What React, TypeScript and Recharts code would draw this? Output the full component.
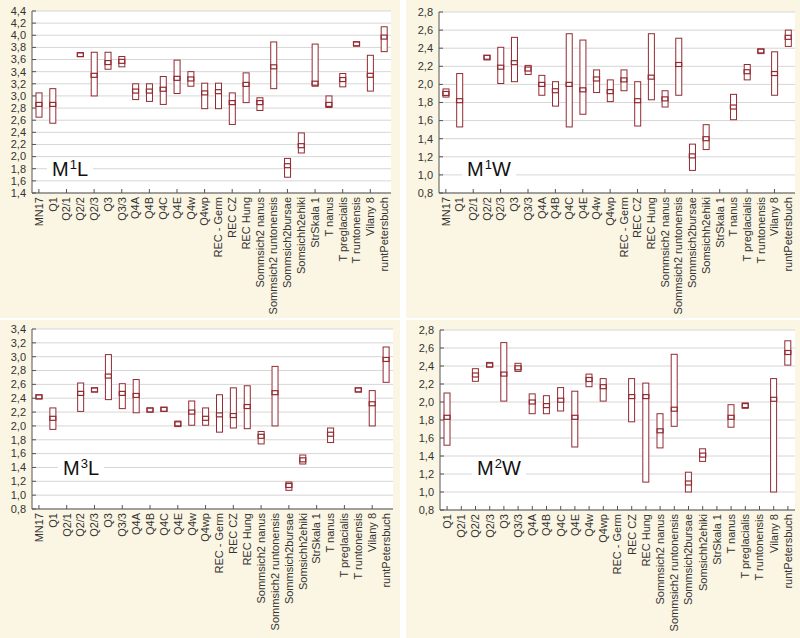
import React from "react";
import { ComposedChart, Bar, Scatter, XAxis, YAxis, CartesianGrid } from "recharts";

// sample groups (x categories)
const groups = [
  "MN17", "Q1", "Q2/1", "Q2/2", "Q2/3", "Q3", "Q3/3", "Q4A", "Q4B", "Q4C", "Q4E", "Q4w", "Q4wp",
  "REC - Germ", "REC CZ", "REC Hung", "Sommsich2 nanus", "Sommsich2 runtonensis", "Sommsich2bursae",
  "Somsichh2ehiki", "StrSkala 1", "T nanus", "T preglacialis", "T runtonensis", "Vilany 8", "runtPetersbuch",
];
const groupsM2W = groups.slice(1);

// M1L
const m1lMin = [2.65, 2.55, null, 3.65, 3.0, 3.44, 3.48, 2.94, 2.91, 2.86, 3.04, 3.16, 2.79, 2.79, 2.53, 2.89, 2.76, 3.12, 1.66, 2.06, 3.16, 2.81, 3.15, 3.82, 3.08, 3.73];
const m1lMax = [3.05, 3.12, null, 3.71, 3.72, 3.72, 3.65, 3.2, 3.2, 3.32, 3.59, 3.4, 3.21, 3.21, 3.05, 3.38, 2.97, 3.89, 1.97, 2.39, 3.855, 3.0, 3.37, 3.89, 3.67, 4.14];
const m1lMed = [2.86, 2.86, null, 3.68, 3.34, 3.55, 3.57, 3.08, 3.08, 3.11, 3.29, 3.28, 3.05, 3.07, 2.89, 3.19, 2.89, 3.48, 1.85, 2.18, 3.21, 2.86, 3.27, 3.86, 3.34, 3.97];

// M1W
const m1wMin = [1.86, 1.53, null, 2.27, 2.01, 2.03, 2.11, 1.88, 1.76, 1.53, 1.67, 1.91, 1.81, 1.93, 1.54, 1.83, 1.75, 1.88, 1.05, 1.28, null, 1.61, 2.05, 2.34, 1.88, 2.42];
const m1wMax = [1.95, 2.12, null, 2.32, 2.41, 2.52, 2.21, 2.1, 2.03, 2.56, 2.49, 2.16, 2.05, 2.16, 2.03, 2.56, 1.93, 2.51, 1.34, 1.555, null, 1.89, 2.22, 2.39, 2.36, 2.6];
const m1wMed = [1.9, 1.82, null, 2.3, 2.19, 2.24, 2.17, 2.0, 1.93, 2.0, 1.94, 2.06, 1.92, 2.05, 1.82, 2.08, 1.84, 2.22, 1.21, 1.4, null, 1.75, 2.14, 2.37, 2.12, 2.52];

// M3L
const m3lMin = [2.39, 1.95, null, 2.21, 2.49, 2.38, 2.25, 2.19, 2.2, 2.21, 1.99, 2.01, 2.01, 1.91, 1.97, 1.96, 1.74, 2.0, 1.07, 1.45, null, 1.76, null, 2.49, 2.0, 2.63];
const m3lMax = [2.45, 2.26, null, 2.62, 2.55, 3.03, 2.61, 2.67, 2.26, 2.27, 2.07, 2.36, 2.26, 2.45, 2.55, 2.58, 1.92, 2.86, 1.19, 1.58, null, 1.97, null, 2.55, 2.51, 3.14];
const m3lMed = [2.42, 2.11, null, 2.47, 2.52, 2.72, 2.47, 2.44, 2.23, 2.24, 2.03, 2.2, 2.11, 2.16, 2.15, 2.28, 1.85, 2.48, 1.14, 1.51, null, 1.88, null, 2.52, 2.32, 2.96];

// M2W (no MN17)
const m2wMin = [1.52, null, 2.23, 2.39, 2.01, 2.34, 1.87, 1.87, 1.9, 1.5, 2.17, 2.01, null, 1.78, 1.11, 1.49, 1.73, 1.0, 1.34, null, 1.72, 1.93, null, 1.0, 2.41];
const m2wMax = [2.1, null, 2.37, 2.44, 2.66, 2.43, 2.09, 2.07, 2.16, 2.12, 2.31, 2.26, null, 2.26, 2.21, 1.87, 2.53, 1.22, 1.48, null, 1.97, 1.99, null, 2.26, 2.68];
const m2wMed = [1.83, null, 2.3, 2.41, 2.31, 2.38, 2.0, 1.96, 2.02, 1.83, 2.25, 2.17, null, 2.06, 2.06, 1.68, 1.92, 1.1, 1.41, null, 1.83, 1.96, null, 2.03, 2.55];

const ticksM1L = [1.4, 1.6, 1.8, 2.0, 2.2, 2.4, 2.6, 2.8, 3.0, 3.2, 3.4, 3.6, 3.8, 4.0, 4.2, 4.4];
const ticksM3L = [0.8, 1.0, 1.2, 1.4, 1.6, 1.8, 2.0, 2.2, 2.4, 2.6, 2.8, 3.0, 3.2, 3.4];
const ticksW = [0.8, 1.0, 1.2, 1.4, 1.6, 1.8, 2.0, 2.2, 2.4, 2.6, 2.8];

const RED = "#922b32";
const AXIS = "#555";
const CREAM = "#fbf6e3";
const FONT = "Liberation Sans, Arial, sans-serif";
const Y_MARGIN = 6;
const X_MARGIN = 3;

const BoxShape = (props: any) => {
  const { x, y, width, height, payload } = props;
  if (!payload || !payload.range) return <g />;
  return <rect x={x} y={y} width={width} height={height} fill="#fff" stroke={RED} strokeWidth={1} />;
};

const MedShape = (props: any) => {
  const { cx, cy, payload } = props;
  if (!payload || payload.med == null || !isFinite(cy)) return <g />;
  return <rect x={cx - 3} y={cy - 2} width={6} height={4} fill="none" stroke={RED} strokeWidth={1.2} />;
};

const YTick = (props: any) => {
  const { x, y, payload } = props;
  const ax = x + Y_MARGIN;
  return (
    <g>
      <line x1={ax} x2={ax + 4} y1={y} y2={y} stroke={AXIS} />
      <text x={x} y={y} dy="0.35em" textAnchor="end" fontSize={11} fill="#333" fontFamily={FONT}>
        {Number(payload.value).toFixed(1).replace(".", ",")}
      </text>
    </g>
  );
};

const makeXTick = (every: number) => (props: any) => {
  const { x, y, payload, index } = props;
  const ay = y - X_MARGIN;
  return (
    <g>
      {index % every === 0 && <line x1={x} x2={x} y1={ay} y2={ay - 4} stroke={AXIS} />}
      <text
        x={x}
        y={y + 1}
        dy="0.35em"
        textAnchor="end"
        transform={`rotate(-90 ${x} ${y + 1})`}
        fontSize={11}
        fill="#333"
        fontFamily={FONT}
      >
        {payload.value}
      </text>
    </g>
  );
};

const makeTopTick = (every: number) => (props: any) => {
  const { x, y, index } = props;
  if (index % every !== 0) return <g />;
  return <line x1={x} x2={x} y1={y} y2={y + 4} stroke={AXIS} />;
};

interface PanelProps {
  names: string[];
  mins: (number | null)[];
  maxs: (number | null)[];
  meds: (number | null)[];
  ticks: number[];
  every: number;
  left: number;
  top: number;
  width: number;
  margin: { top: number; right: number };
  yWidth: number;
  xHeight: number;
  sup: string;
  suffix: string;
  labelPos: { left: number; top: number };
}

function Panel(p: PanelProps) {
  const data = p.names.map((name, i) => ({
    name,
    range: p.mins[i] != null && p.maxs[i] != null ? [p.mins[i], p.maxs[i]] : null,
    med: p.meds[i],
  }));
  const domain = [p.ticks[0], p.ticks[p.ticks.length - 1]];
  return (
    <div style={{ position: "absolute", left: p.left, top: p.top, width: p.width, height: 318, background: CREAM }}>
      <ComposedChart
        width={p.width}
        height={318}
        data={data}
        margin={{ top: p.margin.top, right: p.margin.right, left: 0, bottom: 0 }}
      >
        <CartesianGrid vertical={false} stroke="#d6d6d6" fill="#ffffff" fillOpacity={1} />
        <XAxis
          dataKey="name"
          interval={0}
          height={p.xHeight}
          tickSize={0}
          tickMargin={X_MARGIN}
          tickLine={false}
          axisLine={{ stroke: AXIS }}
          tick={makeXTick(p.every)}
        />
        <XAxis
          xAxisId="top"
          dataKey="name"
          orientation="top"
          interval={0}
          height={0}
          tickSize={0}
          tickMargin={0}
          tickLine={false}
          axisLine={{ stroke: AXIS }}
          tick={makeTopTick(p.every)}
        />
        <YAxis
          domain={domain}
          ticks={p.ticks}
          interval={0}
          width={p.yWidth}
          tickSize={0}
          tickMargin={Y_MARGIN}
          tickLine={false}
          axisLine={{ stroke: AXIS }}
          tick={YTick}
        />
        <YAxis yAxisId="r" orientation="right" domain={domain} width={0} tick={false} tickLine={false} axisLine={{ stroke: AXIS }} />
        <Bar dataKey="range" barSize={6} isAnimationActive={false} shape={BoxShape} />
        <Scatter dataKey="med" isAnimationActive={false} shape={MedShape} />
      </ComposedChart>
      <div
        style={{
          position: "absolute",
          left: p.labelPos.left,
          top: p.labelPos.top,
          background: "#fff",
          padding: "0 5px",
          fontFamily: FONT,
          fontSize: 20,
          lineHeight: "20px",
          color: "#111",
        }}
      >
        M<sup style={{ fontSize: 13, verticalAlign: 7, lineHeight: 0, marginLeft: 1 }}>{p.sup}</sup>
        {p.suffix}
      </div>
    </div>
  );
}

export default function App() {
  return (
    <div style={{ position: "absolute", left: 0, top: 0, width: 800, height: 638, background: "#fff", overflow: "hidden" }}>
      <Panel
        names={groups}
        mins={m1lMin}
        maxs={m1lMax}
        meds={m1lMed}
        ticks={ticksM1L}
        every={2}
        left={0}
        top={0}
        width={400}
        margin={{ top: 11, right: 9 }}
        yWidth={32}
        xHeight={125}
        sup="1"
        suffix="L"
        labelPos={{ left: 47, top: 159 }}
      />
      <Panel
        names={groups}
        mins={m1wMin}
        maxs={m1wMax}
        meds={m1wMed}
        ticks={ticksW}
        every={2}
        left={406}
        top={0}
        width={394}
        margin={{ top: 12, right: 5 }}
        yWidth={33}
        xHeight={125}
        sup="1"
        suffix="W"
        labelPos={{ left: 56, top: 159 }}
      />
      <Panel
        names={groups}
        mins={m3lMin}
        maxs={m3lMax}
        meds={m3lMed}
        ticks={ticksM3L}
        every={2}
        left={0}
        top={320}
        width={400}
        margin={{ top: 9, right: 7 }}
        yWidth={32}
        xHeight={129}
        sup="3"
        suffix="L"
        labelPos={{ left: 58, top: 138 }}
      />
      <Panel
        names={groupsM2W}
        mins={m2wMin}
        maxs={m2wMax}
        meds={m2wMed}
        ticks={ticksW}
        every={1}
        left={406}
        top={320}
        width={394}
        margin={{ top: 10, right: 5 }}
        yWidth={34}
        xHeight={128}
        sup="2"
        suffix="W"
        labelPos={{ left: 66, top: 138 }}
      />
    </div>
  );
}
